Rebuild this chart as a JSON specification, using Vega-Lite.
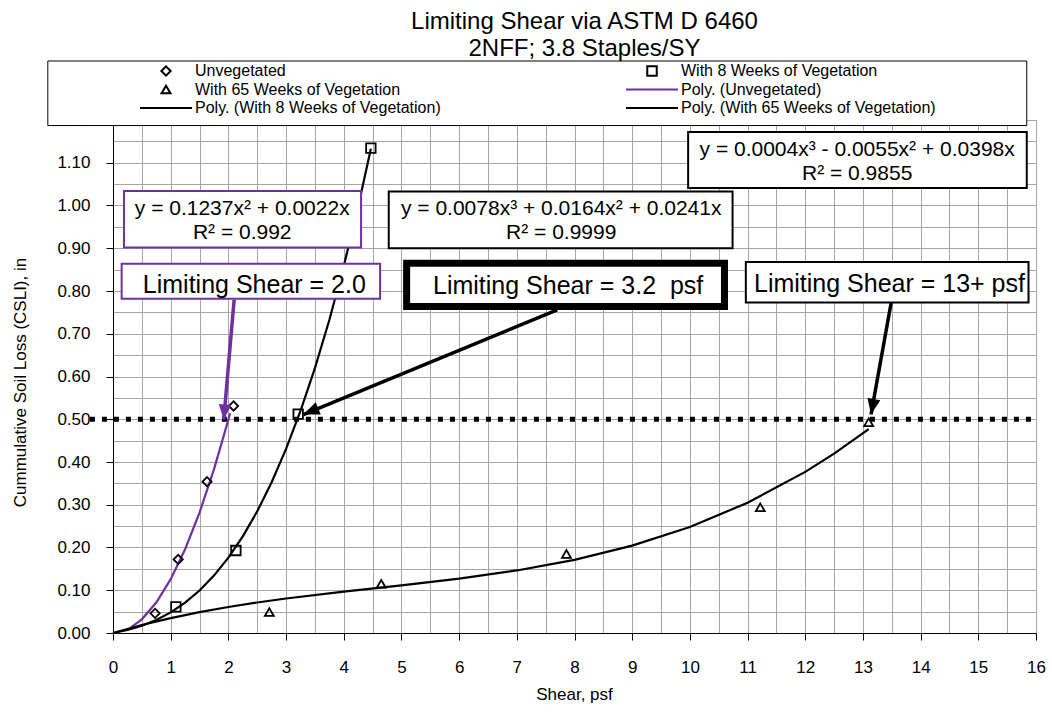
{
  "$schema": "https://vega.github.io/schema/vega-lite/v6.json",
  "width": 923,
  "height": 513,
  "autosize": "none",
  "padding": {"left": 113, "top": 120, "right": 16, "bottom": 80},
  "background": "white",
  "title": {
    "text": ["Limiting Shear via ASTM D 6460", "2NFF; 3.8 Staples/SY"],
    "font": "Liberation Sans", "fontSize": 24, "fontWeight": "normal", "color": "black",
    "lineHeight": 27, "offset": 0, "dx": 10, "anchor": "middle", "frame": "group"
  },
  "datasets": {
    "points": [
      {"series": "Unvegetated", "x": 0.73, "y": 0.046},
      {"series": "Unvegetated", "x": 1.13, "y": 0.172},
      {"series": "Unvegetated", "x": 1.63, "y": 0.354},
      {"series": "Unvegetated", "x": 2.09, "y": 0.531},
      {"series": "With 8 Weeks of Vegetation", "x": 1.09, "y": 0.061},
      {"series": "With 8 Weeks of Vegetation", "x": 2.13, "y": 0.193},
      {"series": "With 8 Weeks of Vegetation", "x": 3.21, "y": 0.512},
      {"series": "With 8 Weeks of Vegetation", "x": 4.47, "y": 1.134},
      {"series": "With 65 Weeks of Vegetation", "x": 2.71, "y": 0.049},
      {"series": "With 65 Weeks of Vegetation", "x": 4.65, "y": 0.115},
      {"series": "With 65 Weeks of Vegetation", "x": 7.86, "y": 0.185},
      {"series": "With 65 Weeks of Vegetation", "x": 11.22, "y": 0.294},
      {"series": "With 65 Weeks of Vegetation", "x": 13.1, "y": 0.493}
    ],
    "curves": [
      {"series": "Poly. (Unvegetated)", "x": 0.3, "y": 0.0118},
      {"series": "Poly. (Unvegetated)", "x": 0.5, "y": 0.032},
      {"series": "Poly. (Unvegetated)", "x": 0.75, "y": 0.0712},
      {"series": "Poly. (Unvegetated)", "x": 1.0, "y": 0.1259},
      {"series": "Poly. (Unvegetated)", "x": 1.25, "y": 0.196},
      {"series": "Poly. (Unvegetated)", "x": 1.5, "y": 0.2816},
      {"series": "Poly. (Unvegetated)", "x": 1.75, "y": 0.3827},
      {"series": "Poly. (Unvegetated)", "x": 2.0, "y": 0.4992},
      {"series": "Poly. (Unvegetated)", "x": 2.03, "y": 0.514},
      {"series": "Poly. (With 8 Weeks of Vegetation)", "x": 0, "y": 0},
      {"series": "Poly. (With 8 Weeks of Vegetation)", "x": 0.25, "y": 0.0072},
      {"series": "Poly. (With 8 Weeks of Vegetation)", "x": 0.5, "y": 0.0171},
      {"series": "Poly. (With 8 Weeks of Vegetation)", "x": 0.75, "y": 0.0306},
      {"series": "Poly. (With 8 Weeks of Vegetation)", "x": 1.0, "y": 0.0483},
      {"series": "Poly. (With 8 Weeks of Vegetation)", "x": 1.25, "y": 0.071},
      {"series": "Poly. (With 8 Weeks of Vegetation)", "x": 1.5, "y": 0.0994},
      {"series": "Poly. (With 8 Weeks of Vegetation)", "x": 1.75, "y": 0.1342},
      {"series": "Poly. (With 8 Weeks of Vegetation)", "x": 2.0, "y": 0.1762},
      {"series": "Poly. (With 8 Weeks of Vegetation)", "x": 2.25, "y": 0.2261},
      {"series": "Poly. (With 8 Weeks of Vegetation)", "x": 2.5, "y": 0.2846},
      {"series": "Poly. (With 8 Weeks of Vegetation)", "x": 2.75, "y": 0.3525},
      {"series": "Poly. (With 8 Weeks of Vegetation)", "x": 3.0, "y": 0.4305},
      {"series": "Poly. (With 8 Weeks of Vegetation)", "x": 3.25, "y": 0.5193},
      {"series": "Poly. (With 8 Weeks of Vegetation)", "x": 3.5, "y": 0.6197},
      {"series": "Poly. (With 8 Weeks of Vegetation)", "x": 3.75, "y": 0.7323},
      {"series": "Poly. (With 8 Weeks of Vegetation)", "x": 4.0, "y": 0.858},
      {"series": "Poly. (With 8 Weeks of Vegetation)", "x": 4.25, "y": 0.9974},
      {"series": "Poly. (With 8 Weeks of Vegetation)", "x": 4.47, "y": 1.133},
      {"series": "Poly. (With 65 Weeks of Vegetation)", "x": 0, "y": 0},
      {"series": "Poly. (With 65 Weeks of Vegetation)", "x": 0.5, "y": 0.0186},
      {"series": "Poly. (With 65 Weeks of Vegetation)", "x": 1, "y": 0.0347},
      {"series": "Poly. (With 65 Weeks of Vegetation)", "x": 1.5, "y": 0.0487},
      {"series": "Poly. (With 65 Weeks of Vegetation)", "x": 2, "y": 0.0608},
      {"series": "Poly. (With 65 Weeks of Vegetation)", "x": 2.5, "y": 0.0714},
      {"series": "Poly. (With 65 Weeks of Vegetation)", "x": 3, "y": 0.0807},
      {"series": "Poly. (With 65 Weeks of Vegetation)", "x": 4, "y": 0.0968},
      {"series": "Poly. (With 65 Weeks of Vegetation)", "x": 5, "y": 0.1115},
      {"series": "Poly. (With 65 Weeks of Vegetation)", "x": 6, "y": 0.1272},
      {"series": "Poly. (With 65 Weeks of Vegetation)", "x": 7, "y": 0.1463},
      {"series": "Poly. (With 65 Weeks of Vegetation)", "x": 8, "y": 0.1712},
      {"series": "Poly. (With 65 Weeks of Vegetation)", "x": 9, "y": 0.2043},
      {"series": "Poly. (With 65 Weeks of Vegetation)", "x": 10, "y": 0.248},
      {"series": "Poly. (With 65 Weeks of Vegetation)", "x": 11, "y": 0.3047},
      {"series": "Poly. (With 65 Weeks of Vegetation)", "x": 12, "y": 0.3768},
      {"series": "Poly. (With 65 Weeks of Vegetation)", "x": 12.5, "y": 0.4194},
      {"series": "Poly. (With 65 Weeks of Vegetation)", "x": 13.1, "y": 0.4767}
    ],
    "boxes": [
      {"fit": "Unvegetated", "role": "equation", "x": 0.19, "x2": 4.30, "y": 1.034, "y2": 0.902},
      {"fit": "Unvegetated", "role": "limit", "x": 0.15, "x2": 4.63, "y": 0.864, "y2": 0.782},
      {"fit": "8 Weeks", "role": "equation", "x": 4.78, "x2": 10.74, "y": 1.033, "y2": 0.900},
      {"fit": "8 Weeks", "role": "limit", "x": 5.09, "x2": 10.60, "y": 0.865, "y2": 0.764},
      {"fit": "65 Weeks", "role": "equation", "x": 9.97, "x2": 15.84, "y": 1.172, "y2": 1.041},
      {"fit": "65 Weeks", "role": "limit", "x": 10.97, "x2": 15.87, "y": 0.868, "y2": 0.773}
    ],
    "labels": [
      {"fit": "Unvegetated", "role": "equation", "text": "y = 0.1237x² + 0.0022x", "x": 2.24, "y": 0.992},
      {"fit": "Unvegetated", "role": "equation", "text": "R² = 0.992", "x": 2.24, "y": 0.935},
      {"fit": "Unvegetated", "role": "limit", "text": "Limiting Shear = 2.0", "x": 2.45, "y": 0.815},
      {"fit": "8 Weeks", "role": "equation", "text": "y = 0.0078x³ + 0.0164x² + 0.0241x", "x": 7.77, "y": 0.991},
      {"fit": "8 Weeks", "role": "equation", "text": "R² = 0.9999", "x": 7.77, "y": 0.936},
      {"fit": "8 Weeks", "role": "limit", "text": "Limiting Shear = 3.2\u00a0 psf", "x": 7.89, "y": 0.812},
      {"fit": "65 Weeks", "role": "equation", "text": "y = 0.0004x³ - 0.0055x² + 0.0398x", "x": 12.9, "y": 1.130},
      {"fit": "65 Weeks", "role": "equation", "text": "R² = 0.9855", "x": 12.9, "y": 1.073},
      {"fit": "65 Weeks", "role": "limit", "text": "Limiting Shear = 13+ psf", "x": 13.46, "y": 0.817}
    ],
    "arrows": [
      {"fit": "Unvegetated", "x": 2.10, "y": 0.780, "x2": 1.92, "y2": 0.499},
      {"fit": "8 Weeks", "x": 7.70, "y": 0.756, "x2": 3.30, "y2": 0.511},
      {"fit": "65 Weeks", "x": 13.49, "y": 0.773, "x2": 13.14, "y2": 0.511}
    ]
  },
  "encoding": {
    "x": {
      "field": "x", "type": "quantitative",
      "scale": {"domain": [0, 16], "nice": false, "zero": false},
      "axis": {
        "title": "Shear, psf",
        "values": [0,0.5,1,1.5,2,2.5,3,3.5,4,4.5,5,5.5,6,6.5,7,7.5,8,8.5,9,9.5,10,10.5,11,11.5,12,12.5,13,13.5,14,14.5,15,15.5,16],
        "grid": true, "gridColor": "#a6a6a6", "gridWidth": 1, "gridOpacity": 1,
        "domainColor": "black", "domainWidth": 1,
        "tickColor": {"condition": {"test": "datum.value % 1 !== 0", "value": "transparent"}, "value": "black"},
        "tickSize": 7, "tickWidth": 1,
        "labelExpr": "datum.value % 1 === 0 ? format(datum.value, 'd') : ''",
        "labelFont": "Liberation Sans", "labelFontSize": 17, "labelColor": "black", "labelPadding": 19,
        "labelOverlap": false, "labelFlush": false, "labelBound": false,
        "titleFont": "Liberation Sans", "titleFontSize": 17, "titleFontWeight": "normal", "titleColor": "black",
        "titleX": 461, "titleY": 61, "titleBaseline": "middle", "titleAlign": "center",
        "zindex": 0
      }
    },
    "y": {
      "field": "y", "type": "quantitative",
      "scale": {"domain": [0, 1.2], "nice": false, "zero": false},
      "axis": {
        "title": "Cummulative Soil Loss (CSLI), in",
        "values": [0,0.05,0.1,0.15,0.2,0.25,0.3,0.35,0.4,0.45,0.5,0.55,0.6,0.65,0.7,0.75,0.8,0.85,0.9,0.95,1,1.05,1.1,1.15,1.2],
        "grid": true, "gridColor": "#a6a6a6", "gridWidth": 1, "gridOpacity": 1,
        "domainColor": "black", "domainWidth": 1,
        "tickColor": {"condition": {"test": "round(datum.value*100) % 10 !== 0", "value": "transparent"}, "value": "black"},
        "tickSize": 7, "tickWidth": 1,
        "labelExpr": "round(datum.value*100) % 10 === 0 ? format(datum.value, '.2f') : ''",
        "labelFont": "Liberation Sans", "labelFontSize": 17, "labelColor": "black", "labelPadding": 16,
        "labelOverlap": false, "labelFlush": false, "labelBound": false,
        "titleFont": "Liberation Sans", "titleFontSize": 17, "titleFontWeight": "normal", "titleColor": "black",
        "titleX": -93, "titleY": 262, "titleAngle": 270, "titleBaseline": "middle", "titleAlign": "center",
        "zindex": 0
      }
    }
  },
  "layer": [
    {
      "data": {"values": [{"x": -1.13, "x2": 15.84, "y": 1.338, "y2": 1.187}]},
      "mark": {"type": "rect", "fill": "white", "stroke": "black", "strokeWidth": 1},
      "encoding": {
        "x2": {"field": "x2"},
        "y2": {"field": "y2"}
      }
    },
    {
      "data": {"name": "curves"},
      "mark": {"type": "line", "strokeWidth": 2.2},
      "encoding": {
        "color": {
          "field": "series", "type": "nominal",
          "scale": {
            "domain": ["Unvegetated", "With 8 Weeks of Vegetation", "With 65 Weeks of Vegetation", "Poly. (Unvegetated)", "Poly. (With 8 Weeks of Vegetation)", "Poly. (With 65 Weeks of Vegetation)"],
            "range": ["black", "black", "black", "#7030a0", "black", "black"]
          },
          "legend": {
            "title": null, "orient": "none", "legendX": 26, "legendY": -57, "columns": 2, "direction": "horizontal",
            "columnPadding": 184, "rowPadding": 2.5, "padding": 0, "clipHeight": 16,
            "symbolStrokeWidth": 2, "symbolFillColor": "transparent",
            "labelFont": "Liberation Sans", "labelFontSize": 16, "labelColor": "black", "labelOffset": 2, "labelLimit": 400,
            "zindex": 1
          }
        }
      }
    },
    {
      "data": {"values": [{"x": -0.4, "x2": 16, "y": 0.5}]},
      "mark": {"type": "rule", "color": "black", "strokeWidth": 5, "strokeDash": [5, 7], "strokeCap": "butt"},
      "encoding": {
        "x2": {"field": "x2"}
      }
    },
    {
      "data": {"name": "points"},
      "mark": {"type": "point", "filled": false, "strokeWidth": 1.8, "opacity": 1},
      "encoding": {
        "color": {
          "field": "series", "type": "nominal",
          "scale": {
            "domain": ["Unvegetated", "With 8 Weeks of Vegetation", "With 65 Weeks of Vegetation", "Poly. (Unvegetated)", "Poly. (With 8 Weeks of Vegetation)", "Poly. (With 65 Weeks of Vegetation)"],
            "range": ["black", "black", "black", "#7030a0", "black", "black"]
          },
          "legend": {
            "title": null, "orient": "none", "legendX": 26, "legendY": -57, "columns": 2, "direction": "horizontal",
            "columnPadding": 184, "rowPadding": 2.5, "padding": 0, "clipHeight": 16,
            "symbolStrokeWidth": 2, "symbolFillColor": "transparent",
            "labelFont": "Liberation Sans", "labelFontSize": 16, "labelColor": "black", "labelOffset": 2, "labelLimit": 400,
            "zindex": 1
          }
        },
        "shape": {
          "field": "series", "type": "nominal",
          "scale": {
            "domain": ["Unvegetated", "With 8 Weeks of Vegetation", "With 65 Weeks of Vegetation", "Poly. (Unvegetated)", "Poly. (With 8 Weeks of Vegetation)", "Poly. (With 65 Weeks of Vegetation)"],
            "range": ["diamond", "square", "triangle-up", "stroke", "stroke", "stroke"]
          },
          "legend": {
            "title": null, "orient": "none", "legendX": 26, "legendY": -57, "columns": 2, "direction": "horizontal",
            "columnPadding": 184, "rowPadding": 2.5, "padding": 0, "clipHeight": 16,
            "symbolStrokeWidth": 2, "symbolFillColor": "transparent",
            "labelFont": "Liberation Sans", "labelFontSize": 16, "labelColor": "black", "labelOffset": 2, "labelLimit": 400,
            "zindex": 1
          }
        },
        "size": {
          "field": "series", "type": "nominal",
          "scale": {
            "type": "ordinal",
            "domain": ["Unvegetated", "With 8 Weeks of Vegetation", "With 65 Weeks of Vegetation", "Poly. (Unvegetated)", "Poly. (With 8 Weeks of Vegetation)", "Poly. (With 65 Weeks of Vegetation)"],
            "range": [85, 90, 80, 2704, 2704, 2704]
          },
          "legend": {
            "title": null, "orient": "none", "legendX": 26, "legendY": -57, "columns": 2, "direction": "horizontal",
            "columnPadding": 184, "rowPadding": 2.5, "padding": 0, "clipHeight": 16,
            "symbolStrokeWidth": 2, "symbolFillColor": "transparent",
            "labelFont": "Liberation Sans", "labelFontSize": 16, "labelColor": "black", "labelOffset": 2, "labelLimit": 400,
            "zindex": 1
          }
        }
      }
    },
    {
      "data": {"name": "arrows"},
      "mark": {"type": "rule", "strokeWidth": 3.5, "strokeCap": "butt"},
      "encoding": {
        "x2": {"field": "x2"},
        "y2": {"field": "y2"},
        "color": {"condition": {"test": "datum.fit === 'Unvegetated'", "value": "#7030a0"}, "value": "black"}
      }
    },
    {
      "data": {"name": "arrows"},
      "transform": [{"filter": "datum.fit === 'Unvegetated'"}],
      "mark": {"type": "point", "shape": "M0,0L-0.5,1.2L0.5,1.2Z", "size": 640, "filled": true, "color": "#7030a0", "opacity": 1, "angle": 184.8, "strokeWidth": 0},
      "encoding": {
        "x": {"field": "x2", "type": "quantitative"},
        "y": {"field": "y2", "type": "quantitative"}
      }
    },
    {
      "data": {"name": "arrows"},
      "transform": [{"filter": "datum.fit === '8 Weeks'"}],
      "mark": {"type": "point", "shape": "M0,0L-0.5,1.2L0.5,1.2Z", "size": 720, "filled": true, "color": "black", "opacity": 1, "angle": 247.5, "strokeWidth": 0},
      "encoding": {
        "x": {"field": "x2", "type": "quantitative"},
        "y": {"field": "y2", "type": "quantitative"}
      }
    },
    {
      "data": {"name": "arrows"},
      "transform": [{"filter": "datum.fit === '65 Weeks'"}],
      "mark": {"type": "point", "shape": "M0,0L-0.5,1.2L0.5,1.2Z", "size": 680, "filled": true, "color": "black", "opacity": 1, "angle": 190.6, "strokeWidth": 0},
      "encoding": {
        "x": {"field": "x2", "type": "quantitative"},
        "y": {"field": "y2", "type": "quantitative"}
      }
    },
    {
      "data": {"name": "boxes"},
      "mark": {"type": "rect", "fill": "white"},
      "encoding": {
        "x2": {"field": "x2"},
        "y2": {"field": "y2"},
        "stroke": {"condition": {"test": "datum.fit === 'Unvegetated'", "value": "#7030a0"}, "value": "black"},
        "strokeWidth": {"condition": {"test": "datum.fit === '8 Weeks' && datum.role === 'limit'", "value": 7}, "value": 2}
      }
    },
    {
      "data": {"name": "labels"},
      "transform": [{"filter": "datum.role === 'equation'"}],
      "mark": {"type": "text", "font": "Liberation Sans", "fontSize": 21, "color": "black", "align": "center", "baseline": "middle"},
      "encoding": {
        "text": {"field": "text"}
      }
    },
    {
      "data": {"name": "labels"},
      "transform": [{"filter": "datum.role === 'limit'"}],
      "mark": {"type": "text", "font": "Liberation Sans", "fontSize": 25, "color": "black", "align": "center", "baseline": "middle"},
      "encoding": {
        "text": {"field": "text"}
      }
    }
  ],
  "config": {
    "view": {"stroke": "#808080"},
    "font": "Liberation Sans"
  }
}
